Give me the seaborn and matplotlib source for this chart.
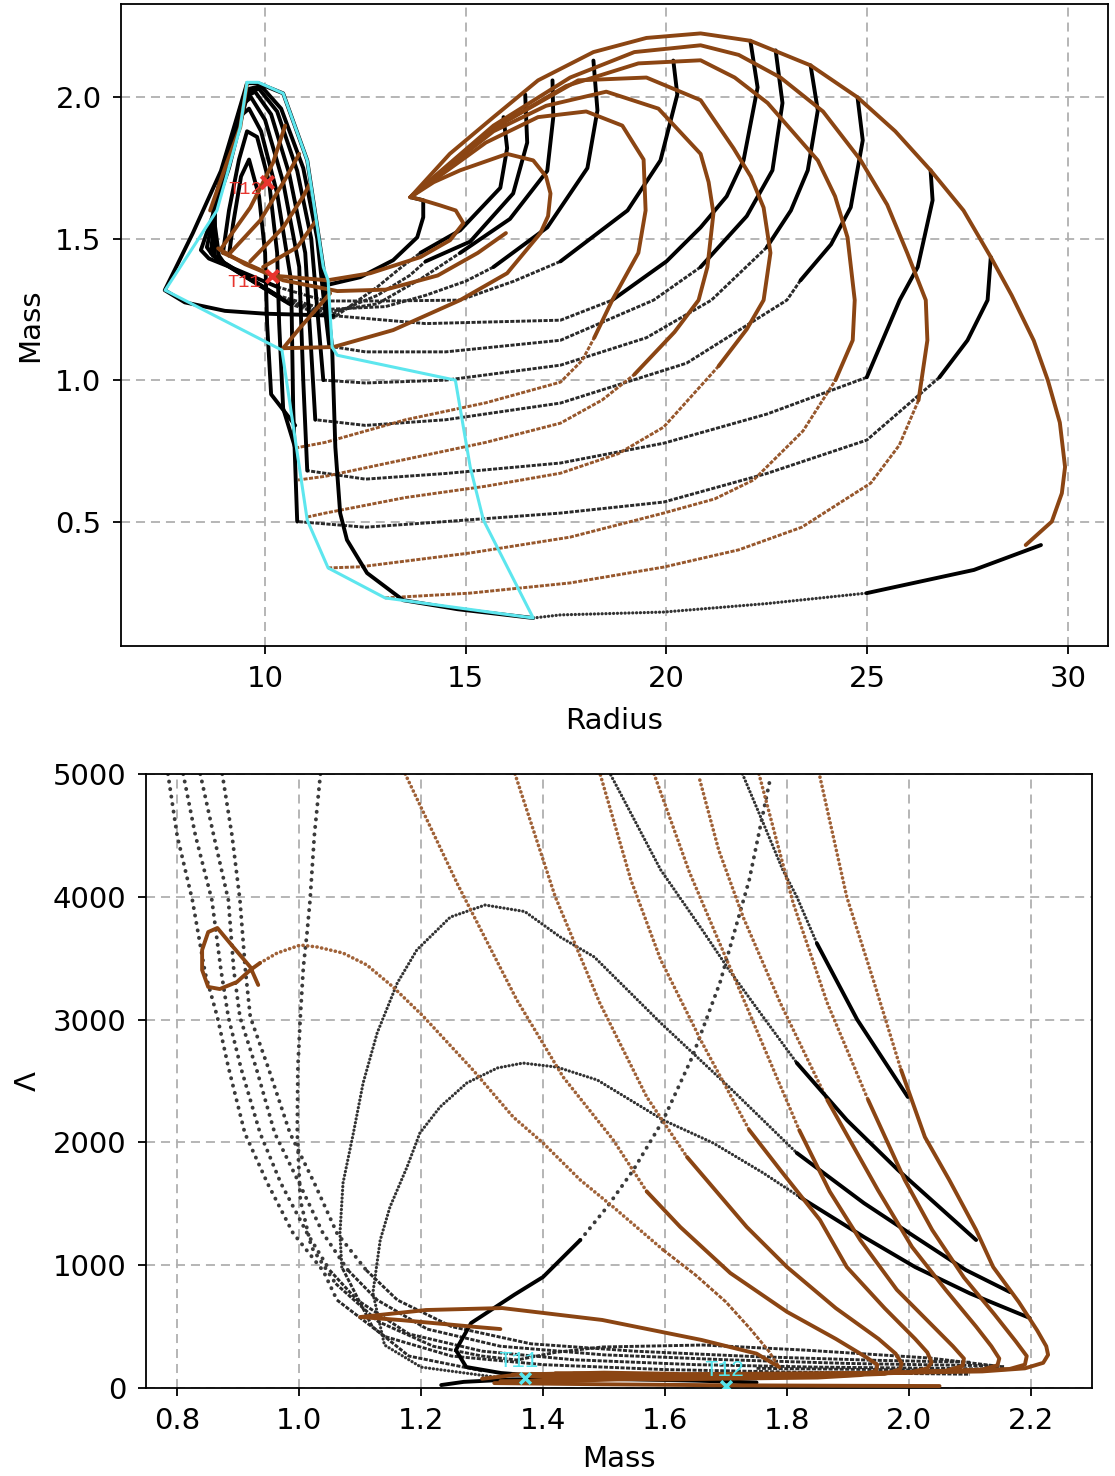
import matplotlib
matplotlib.use("Agg")
import matplotlib.pyplot as plt
import seaborn as sns

# ================= TOP PANEL: Mass vs Radius =================
TOP_X_TICKS = [10, 15, 20, 25, 30]
TOP_Y_TICKS = [0.5, 1.0, 1.5, 2.0]

T_CYAN = [(9.55, 2.053), (9.38, 1.894), (8.8, 1.60), (7.51, 1.318), (10.42, 1.106), (11.05, 0.505),
          (11.57, 0.336), (12.99, 0.23), (16.68, 0.159), (15.44, 0.505), (15.11, 0.693), (14.74, 1.0),
          (11.8, 1.088), (11.67, 1.117), (11.57, 1.353), (11.45, 1.40), (11.05, 1.777), (10.45, 2.014),
          (9.83, 2.053), (9.55, 2.053)]

# outer brown envelope
T_ENV = [(28.95, 0.417), (29.6, 0.50), (29.85, 0.60), (29.93, 0.693), (29.8, 0.85), (29.5, 1.0), (29.15, 1.14),
         (28.6, 1.30), (28.08, 1.435), (27.4, 1.60), (26.58, 1.742), (25.7, 1.88), (24.76, 2.0), (23.59, 2.113),
         (22.09, 2.20), (20.85, 2.226), (19.5, 2.21), (18.18, 2.16), (16.8, 2.06), (15.69, 1.93),
         (14.6, 1.80), (13.62, 1.647)]
# nested brown loops (lower part / upper part)
T_B1_LOW = [(12.99, 0.23), (15.11, 0.247), (17.6, 0.283), (19.93, 0.339), (21.8, 0.40), (23.37, 0.48),
            (25.09, 0.636), (25.8, 0.77), (26.28, 0.929)]
T_B1_UP = [(26.28, 0.929), (26.5, 1.141), (26.46, 1.283), (26.0, 1.449), (25.5, 1.62), (24.84, 1.777),
           (23.9, 1.95), (22.84, 2.07), (21.8, 2.15), (20.85, 2.184), (19.2, 2.16), (17.6, 2.07),
           (15.69, 1.90), (13.62, 1.647)]
T_B2_LOW = [(11.57, 0.336), (12.37, 0.34), (15.11, 0.389), (17.6, 0.445), (19.93, 0.53), (21.2, 0.58),
            (22.17, 0.647), (23.4, 0.82), (24.21, 1.0)]
T_B2_UP = [(24.21, 1.0), (24.64, 1.141), (24.69, 1.283), (24.51, 1.505), (24.2, 1.65), (23.77, 1.777),
           (22.52, 1.98), (21.7, 2.07), (20.85, 2.131), (19.3, 2.12), (17.5, 2.04), (15.69, 1.89), (13.62, 1.647)]
T_B3_LOW = [(11.05, 0.516), (11.5, 0.53), (13.5, 0.585), (15.5, 0.625), (17.36, 0.671), (18.8, 0.74),
            (19.93, 0.834), (21.3, 1.05)]
T_B3_UP = [(21.3, 1.05), (22.0, 1.18), (22.42, 1.283), (22.59, 1.45), (22.42, 1.61), (22.1, 1.72),
           (21.67, 1.82), (20.85, 1.99), (19.5, 2.07), (17.8, 2.06), (15.69, 1.89), (13.62, 1.647)]
T_B4_LOW = [(10.82, 0.647), (11.5, 0.66), (13.5, 0.72), (15.5, 0.78), (17.36, 0.848), (18.4, 0.93), (19.2, 1.02)]
T_B4_UP = [(19.2, 1.02), (20.2, 1.17), (20.8, 1.283), (21.02, 1.40), (21.17, 1.59), (21.05, 1.70),
           (20.85, 1.80), (19.8, 1.96), (18.5, 2.02), (17.0, 1.97), (15.69, 1.88), (13.62, 1.647)]
T_B5_LOW = [(10.75, 0.76), (11.5, 0.78), (13.5, 0.86), (15.5, 0.92), (17.36, 0.993), (17.9, 1.07), (18.2, 1.15)]
T_B5_UP = [(18.2, 1.15), (18.65, 1.283), (19.3, 1.45), (19.48, 1.60), (19.43, 1.78), (18.9, 1.90),
           (18.0, 1.95), (16.8, 1.93), (15.5, 1.84), (13.62, 1.647)]
T_B6 = [(13.62, 1.647), (14.2, 1.70), (14.86, 1.742), (16.03, 1.80), (16.68, 1.777), (17.0, 1.72), (17.11, 1.66),
        (17.05, 1.58), (16.86, 1.52), (16.03, 1.378), (14.86, 1.283), (13.19, 1.177), (11.7, 1.117),
        (10.45, 1.113), (10.9, 1.19), (11.62, 1.307)]
T_B7 = [(13.62, 1.647), (13.94, 1.636), (14.36, 1.618), (14.75, 1.60), (14.94, 1.555), (14.61, 1.495),
        (13.87, 1.435), (12.62, 1.378), (11.55, 1.353), (10.17, 1.37), (9.5, 1.41), (8.83, 1.466)]
T_B8 = [(8.95, 1.45), (10.45, 1.353), (11.8, 1.315), (13.0, 1.32), (14.3, 1.37), (15.3, 1.45), (16.0, 1.52)]
T_BD1 = [(8.88, 1.46), (9.63, 1.61), (10.2, 1.77), (10.5, 1.90)]
T_BD2 = [(9.13, 1.45), (9.88, 1.565), (10.5, 1.71), (10.85, 1.80)]
T_BD3 = [(9.63, 1.42), (10.45, 1.54), (10.95, 1.65), (11.1, 1.69)]
T_BD4 = [(9.95, 1.40), (10.8, 1.47), (11.25, 1.56)]
T_BEDGE = [(9.55, 2.05), (9.38, 1.894), (9.05, 1.77), (8.63, 1.60)]

# black sequences
T_C0_DOT = [(16.68, 0.159), (17.36, 0.17), (19.93, 0.18), (22.5, 0.21), (24.99, 0.247)]
T_C0_TAIL = [(24.99, 0.247), (27.66, 0.329), (29.33, 0.417)]
T_C0_CL = [(16.68, 0.159), (14.8, 0.19), (13.44, 0.222), (12.54, 0.318), (12.04, 0.435), (11.87, 0.53),
           (11.75, 0.763), (11.67, 1.116), (11.45, 1.40), (11.05, 1.777), (10.45, 2.014), (9.83, 2.05),
           (9.55, 2.05), (9.3, 1.93), (8.9, 1.74), (8.2, 1.52), (7.5, 1.318), (8.0, 1.275), (9.0, 1.245),
           (10.0, 1.235), (11.7, 1.228)]
T_C0_LOW = [(11.7, 1.228), (14.0, 1.20), (17.36, 1.212), (18.65, 1.283)]
T_C0_ARC = [(18.65, 1.283), (20.0, 1.42), (20.85, 1.54), (21.5, 1.65), (21.92, 1.777), (22.27, 2.035), (22.09, 2.20)]

T_C1_A = [(22.72, 2.166), (22.89, 1.98), (22.64, 1.742), (22.0, 1.58), (20.85, 1.40)]
T_C1_B = [(20.85, 1.40), (19.68, 1.283), (17.36, 1.141), (14.5, 1.10), (12.5, 1.10), (11.6, 1.12)]
T_C1_C = [(11.6, 1.12), (11.45, 1.30), (11.3, 1.50), (10.95, 1.75), (10.4, 1.96), (9.9, 2.04), (9.6, 2.03),
          (9.4, 1.92), (9.1, 1.75), (8.4, 1.46), (8.6, 1.43), (9.3, 1.39), (10.3, 1.33)]
T_C1_D = [(10.3, 1.33), (11.5, 1.28), (13.0, 1.28), (14.86, 1.283), (16.2, 1.35), (17.36, 1.42)]
T_C1_E = [(17.36, 1.42), (19.03, 1.60), (19.85, 1.777), (20.27, 2.01), (20.17, 2.13)]

T_C2_A = [(23.59, 2.113), (23.77, 1.954), (23.52, 1.742), (23.1, 1.60), (22.5, 1.47)]
T_C2_B = [(22.5, 1.47), (21.12, 1.283), (19.5, 1.15), (17.36, 1.053), (14.5, 1.0), (12.5, 0.99), (11.45, 1.0)]
T_C2_C = [(11.45, 1.0), (11.3, 1.25), (11.15, 1.50), (10.8, 1.74), (10.3, 1.95), (9.85, 2.03), (9.55, 2.02),
          (9.3, 1.90), (8.9, 1.70), (8.55, 1.47), (8.7, 1.44), (9.5, 1.37), (10.3, 1.30)]
T_C2_D = [(10.3, 1.30), (11.5, 1.25), (13.0, 1.26), (14.0, 1.30), (15.0, 1.35), (15.69, 1.40)]
T_C2_E = [(15.69, 1.40), (17.03, 1.54), (18.03, 1.75), (18.28, 1.954), (18.18, 2.13)]

T_C3_A = [(24.76, 2.0), (24.89, 1.848), (24.59, 1.611), (24.1, 1.48), (23.34, 1.353)]
T_C3_B = [(23.34, 1.353), (23.0, 1.283), (20.5, 1.06), (17.36, 0.919), (14.5, 0.86), (12.5, 0.84), (11.25, 0.86)]
T_C3_C = [(11.25, 0.86), (11.15, 1.1), (11.0, 1.45), (10.6, 1.73), (10.15, 1.94), (9.75, 2.02), (9.5, 2.0),
          (9.2, 1.86), (8.8, 1.66), (8.65, 1.45), (8.8, 1.43), (9.6, 1.36), (10.4, 1.29)]
T_C3_D = [(10.4, 1.29), (11.5, 1.24), (12.8, 1.27), (13.9, 1.36), (14.86, 1.45)]
T_C3_E = [(14.86, 1.45), (16.1, 1.57), (17.03, 1.74), (17.18, 1.93), (17.16, 2.06)]

T_C4_A = [(26.58, 1.742), (26.63, 1.636), (26.26, 1.40), (25.81, 1.283), (24.99, 1.01)]
T_C4_B = [(24.99, 1.01), (22.5, 0.88), (19.93, 0.777), (17.36, 0.707), (14.5, 0.67), (12.5, 0.65), (11.05, 0.68)]
T_C4_C = [(11.05, 0.68), (10.95, 1.0), (10.85, 1.40), (10.45, 1.70), (10.0, 1.92), (9.65, 2.0), (9.4, 1.97),
          (9.1, 1.82), (8.75, 1.63), (8.75, 1.44), (8.9, 1.42), (9.7, 1.35), (10.5, 1.28)]
T_C4_D = [(10.5, 1.28), (11.6, 1.23), (12.8, 1.30), (13.6, 1.37), (14.0, 1.42)]
T_C4_E = [(14.0, 1.42), (15.11, 1.49), (16.18, 1.66), (16.53, 1.84), (16.48, 2.01)]

T_C5_A = [(28.08, 1.435), (28.0, 1.283), (27.5, 1.141), (26.8, 1.01)]
T_C5_B = [(26.8, 1.01), (24.99, 0.788), (22.5, 0.67), (19.93, 0.569), (17.36, 0.53), (14.5, 0.50), (12.5, 0.48), (10.8, 0.50)]
T_C5_C = [(10.8, 0.50), (10.7, 0.9), (10.65, 1.35), (10.3, 1.66), (9.9, 1.88), (9.6, 1.96), (9.35, 1.93),
          (9.0, 1.78), (8.7, 1.60), (8.85, 1.44), (9.0, 1.41), (9.8, 1.34), (10.6, 1.27)]
T_C5_D = [(10.6, 1.27), (11.7, 1.22), (12.8, 1.33), (13.4, 1.40), (13.87, 1.45)]
T_C5_E = [(13.87, 1.45), (14.86, 1.53), (15.86, 1.68), (16.03, 1.82), (15.94, 1.93)]

T_C6 = [(10.75, 0.76), (10.45, 0.9), (10.35, 1.2), (10.3, 1.45), (10.1, 1.7), (9.8, 1.86), (9.55, 1.88),
        (9.35, 1.78), (9.1, 1.6), (8.95, 1.45)]
T_C7 = [(10.75, 0.84), (10.15, 0.95), (10.05, 1.2), (10.0, 1.45), (9.85, 1.65), (9.6, 1.78), (9.4, 1.72),
        (9.2, 1.55), (9.1, 1.44)]
T_JOIN = [(13.62, 1.647), (13.94, 1.636), (13.94, 1.576), (13.79, 1.505), (13.19, 1.424), (12.37, 1.364), (11.5, 1.335)]

TOP_MARK_NAMES = ["T11", "T12"]
TOP_MARK_R = [10.17, 10.05]
TOP_MARK_M = [1.37, 1.70]

# ================= BOTTOM PANEL: Lambda vs Mass =================
BOT_X_TICKS = [0.8, 1.0, 1.2, 1.4, 1.6, 1.8, 2.0, 2.2]
BOT_Y_TICKS = [0, 1000, 2000, 3000, 4000, 5000]

L_LOOP = [(0.933, 3282), (0.920, 3428), (0.892, 3591), (0.866, 3746), (0.851, 3713), (0.841, 3567),
          (0.841, 3404), (0.851, 3266), (0.870, 3249), (0.898, 3306), (0.920, 3404), (0.936, 3461)]
L_LOOP_TAIL = [(0.936, 3461), (0.964, 3542), (1.002, 3607), (1.030, 3591), (1.072, 3542), (1.111, 3445),
               (1.154, 3266), (1.203, 3030), (1.285, 2590), (1.351, 2207), (1.400, 1995), (1.461, 1694),
               (1.515, 1474), (1.597, 1124)]
L_LOOP_END = [(1.597, 1124), (1.65, 920), (1.70, 700), (1.74, 480), (1.77, 300), (1.787, 171)]
L_LOW_ARC = [(1.787, 171), (1.75, 280), (1.66, 391), (1.497, 554), (1.333, 651), (1.208, 635), (1.1, 578),
             (1.167, 553), (1.29, 497), (1.33, 480)]

L_F1_DOT = [(1.174, 5000), (1.26, 4100), (1.357, 3160), (1.433, 2532), (1.515, 2020), (1.57, 1600)]
L_F1 = [(1.57, 1600), (1.625, 1311), (1.707, 936), (1.80, 620), (1.88, 400), (1.93, 250), (1.948, 190),
        (1.946, 140), (1.92, 105), (1.85, 85), (1.6, 70), (1.45, 75), (1.38, 95)]
L_F2_DOT = [(1.354, 5000), (1.42, 4000), (1.493, 3135), (1.570, 2370), (1.636, 1881)]
L_F2 = [(1.636, 1881), (1.734, 1311), (1.80, 985), (1.88, 650), (1.95, 400), (1.978, 280), (1.988, 200),
        (1.985, 150), (1.96, 115), (1.85, 95), (1.65, 85), (1.5, 80), (1.4, 90)]
L_F3_DOT = [(1.494, 4992), (1.544, 4137), (1.593, 3485), (1.661, 2809), (1.738, 2101)]
L_F3 = [(1.738, 2101), (1.789, 1775), (1.854, 1368), (1.898, 985), (1.96, 650), (2.01, 400), (2.03, 290),
        (2.037, 210), (2.03, 160), (2.0, 125), (1.85, 105), (1.65, 95), (1.45, 95), (1.35, 110)]
L_F4_DOT = [(1.582, 5000), (1.64, 4200), (1.70, 3500), (1.76, 2800), (1.82, 2100)]
L_F4 = [(1.82, 2100), (1.87, 1600), (1.92, 1205), (1.98, 800), (2.04, 500), (2.072, 340), (2.09, 240),
        (2.088, 180), (2.06, 140), (1.9, 115), (1.7, 105), (1.5, 100), (1.38, 115)]
L_F5_DOT = [(1.657, 4951), (1.688, 4381), (1.728, 3835), (1.789, 3135), (1.866, 2345)]
L_F5 = [(1.866, 2345), (1.949, 1612), (2.005, 1148), (2.06, 800), (2.11, 500), (2.135, 340), (2.148, 240),
        (2.145, 185), (2.12, 150), (1.95, 120), (1.75, 110), (1.55, 105), (1.4, 110)]
L_F6_DOT = [(1.754, 5000), (1.81, 3950), (1.866, 3135), (1.933, 2345)]
L_F6 = [(1.933, 2345), (1.993, 1694), (2.038, 1287), (2.09, 900), (2.14, 600), (2.175, 380), (2.193, 260),
        (2.19, 190), (2.165, 155), (2.0, 125), (1.8, 115), (1.6, 110), (1.42, 120)]
L_F7_DOT = [(1.854, 4975), (1.898, 3998), (1.943, 3298), (1.987, 2590)]
L_F7 = [(1.987, 2590), (2.026, 2044), (2.066, 1694), (2.110, 1287), (2.138, 985), (2.18, 700), (2.21, 470),
        (2.225, 340), (2.228, 270), (2.22, 205), (2.19, 160), (2.12, 135), (2.0, 125), (1.8, 118),
        (1.6, 112), (1.45, 118)]
L_B_FLOOR = [(1.32, 40), (1.5, 30), (1.7, 22), (1.9, 18), (2.05, 16)]
L_B_SWIRL = [(1.30, 75), (1.36, 110), (1.5, 125), (1.62, 115), (1.6, 80), (1.45, 60), (1.33, 55)]

L_D1_DOT = [(0.785, 5000), (0.80, 4500), (0.825, 3974), (0.846, 3379), (0.866, 3021), (0.884, 2614),
            (0.911, 2076), (0.948, 1669), (0.99, 1262), (1.04, 950), (1.062, 717)]
L_D1 = [(1.062, 717), (1.14, 420), (1.25, 260), (1.4, 190), (1.6, 150), (1.8, 130), (2.0, 118), (2.1, 112)]
L_D2_DOT = [(0.810, 5000), (0.83, 4500), (0.857, 3974), (0.872, 3400), (0.884, 3021), (0.905, 2600),
            (0.936, 2076), (0.97, 1669), (1.013, 1262), (1.05, 960)]
L_D2 = [(1.05, 960), (1.095, 717), (1.18, 440), (1.3, 300), (1.45, 230), (1.65, 190), (1.85, 170), (2.05, 160), (2.13, 155)]
L_D3_DOT = [(0.838, 5000), (0.86, 4500), (0.884, 3974), (0.893, 3400), (0.903, 3021), (0.93, 2600),
            (0.96, 2076), (1.0, 1669), (1.039, 1262), (1.08, 960)]
L_D3 = [(1.08, 960), (1.128, 717), (1.21, 480), (1.33, 340), (1.5, 270), (1.7, 230), (1.9, 200), (2.08, 185), (2.15, 180)]
L_D4_DOT = [(0.874, 5000), (0.89, 4500), (0.903, 3974), (0.912, 3400), (0.920, 3021), (0.95, 2600),
            (0.985, 2076), (1.025, 1669), (1.062, 1262), (1.11, 960)]
L_D4 = [(1.11, 960), (1.161, 717), (1.25, 500), (1.38, 360), (1.55, 300), (1.75, 255), (1.95, 225), (2.1, 210)]
L_D5_DOT = [(1.035, 5000), (1.025, 4500), (1.018, 3974), (1.013, 3705), (1.007, 3428), (1.002, 3021),
            (0.998, 2614), (0.997, 2076), (1.002, 1531), (1.02, 1150), (1.06, 850)]
L_D5 = [(1.06, 850), (1.13, 540), (1.22, 340), (1.30, 260), (1.357, 228), (1.42, 290), (1.497, 334),
        (1.662, 350), (1.828, 309), (2.034, 244), (2.157, 171), (2.12, 140), (1.95, 150), (1.75, 160)]

L_K1_DOT = [(1.727, 5000), (1.761, 4600), (1.793, 4220), (1.816, 4000), (1.849, 3620)]
L_K1 = [(1.849, 3620), (1.915, 3000), (1.998, 2370)]
L_K2_DOT = [(1.511, 4992), (1.593, 4218), (1.661, 3730), (1.705, 3404), (1.761, 3021), (1.816, 2647)]
L_K2 = [(1.816, 2647), (1.898, 2182), (1.982, 1775), (2.110, 1205)]
L_K3_LOW = [(1.30, 140), (1.18, 260), (1.12, 500), (1.07, 985)]
L_K3_DOT = [(1.07, 985), (1.067, 1262), (1.072, 1669), (1.089, 2076), (1.105, 2484), (1.128, 2891),
            (1.161, 3298), (1.193, 3567), (1.248, 3835), (1.305, 3933), (1.37, 3880), (1.428, 3673),
            (1.484, 3510), (1.593, 2972), (1.705, 2451), (1.816, 1914)]
L_K3 = [(1.816, 1914), (1.926, 1506), (2.010, 1230), (2.093, 961), (2.166, 780)]
L_K4_THIN = [(1.32, 90), (1.2, 170), (1.14, 350), (1.121, 774), (1.133, 1205), (1.149, 1474), (1.177, 1800),
             (1.198, 2076), (1.231, 2288), (1.275, 2484), (1.325, 2606), (1.367, 2646), (1.423, 2613),
             (1.489, 2508), (1.543, 2345), (1.597, 2182), (1.679, 1995), (1.761, 1751), (1.821, 1555)]
L_K4 = [(1.821, 1555), (1.926, 1230), (2.010, 985), (2.1, 770), (2.198, 570)]
L_K5 = [(1.40, 95), (1.331, 122), (1.274, 171), (1.257, 309), (1.282, 529), (1.353, 760), (1.4, 904), (1.461, 1205)]
L_K5_DOT = [(1.461, 1205), (1.505, 1474), (1.548, 1775), (1.597, 2182), (1.645, 2700),
            (1.69, 3300), (1.738, 4137), (1.772, 4951)]
L_K_FLOOR = [(1.233, 24), (1.27, 50), (1.35, 70), (1.5, 75), (1.65, 60), (1.75, 45)]

BOT_MARK_NAMES = ["T11", "T12"]
BOT_MARK_M = [1.37, 1.70]
BOT_MARK_L = [81, 16]

# ================= styles =================
STYLES = {
    "kd": dict(color="#3a3a3a", lw=2.8, ls=(0, (0.05, 1.9)), cap="round", z=2),
    "kc": dict(color="#333333", lw=2.3, ls=(0, (0.05, 1.15)), cap="round", z=2),
    "bd": dict(color="#a06238", lw=2.6, ls=(0, (0.05, 1.25)), cap="round", z=2),
    "kt": dict(color="#2a2a2a", lw=2.1, ls=(0, (1.4, 0.5)), cap="butt", z=3),
    "bt": dict(color="#97572c", lw=2.1, ls=(0, (1.4, 0.5)), cap="butt", z=3),
    "k": dict(color="black", lw=2.8, ls="-", cap="round", z=4),
    "b": dict(color="#8b4513", lw=2.8, ls="-", cap="round", z=5),
    "c": dict(color="#5de6ee", lw=2.2, ls="-", cap="round", z=6),
}

TOP_SEGMENTS = [
    ("kc", T_C0_DOT), ("k", T_C0_TAIL), ("k", T_C0_CL), ("kt", T_C0_LOW), ("k", T_C0_ARC),
    ("k", T_C1_A), ("kt", T_C1_B), ("k", T_C1_C), ("kt", T_C1_D), ("k", T_C1_E),
    ("k", T_C2_A), ("kt", T_C2_B), ("k", T_C2_C), ("kt", T_C2_D), ("k", T_C2_E),
    ("k", T_C3_A), ("kt", T_C3_B), ("k", T_C3_C), ("kt", T_C3_D), ("k", T_C3_E),
    ("k", T_C4_A), ("kt", T_C4_B), ("k", T_C4_C), ("kt", T_C4_D), ("k", T_C4_E),
    ("k", T_C5_A), ("kt", T_C5_B), ("k", T_C5_C), ("kt", T_C5_D), ("k", T_C5_E),
    ("k", T_C6), ("k", T_C7), ("k", T_JOIN),
    ("b", T_ENV), ("bt", T_B1_LOW), ("b", T_B1_UP), ("bt", T_B2_LOW), ("b", T_B2_UP),
    ("bt", T_B3_LOW), ("b", T_B3_UP), ("bt", T_B4_LOW), ("b", T_B4_UP), ("bt", T_B5_LOW), ("b", T_B5_UP),
    ("b", T_B6), ("b", T_B7), ("b", T_B8), ("b", T_BD1), ("b", T_BD2), ("b", T_BD3), ("b", T_BD4),
    ("b", T_BEDGE), ("c", T_CYAN),
]

BOT_SEGMENTS = [
    ("kd", L_D1_DOT), ("kt", L_D1), ("kd", L_D2_DOT), ("kt", L_D2), ("kd", L_D3_DOT), ("kt", L_D3),
    ("kd", L_D4_DOT), ("kt", L_D4), ("kd", L_D5_DOT), ("kt", L_D5),
    ("kc", L_K1_DOT), ("k", L_K1), ("kc", L_K2_DOT), ("k", L_K2), ("kt", L_K3_LOW), ("kc", L_K3_DOT),
    ("k", L_K3), ("kc", L_K4_THIN), ("k", L_K4), ("k", L_K5), ("kd", L_K5_DOT), ("k", L_K_FLOOR),
    ("b", L_LOOP), ("bd", L_LOOP_TAIL), ("bt", L_LOOP_END), ("b", L_LOW_ARC),
    ("bd", L_F1_DOT), ("b", L_F1), ("bd", L_F2_DOT), ("b", L_F2), ("bd", L_F3_DOT), ("b", L_F3),
    ("bd", L_F4_DOT), ("b", L_F4), ("bd", L_F5_DOT), ("b", L_F5), ("bd", L_F6_DOT), ("b", L_F6),
    ("bd", L_F7_DOT), ("b", L_F7), ("b", L_B_FLOOR), ("b", L_B_SWIRL),
]

# ================= drawing =================
sns.set_style("ticks")
plt.rcParams["font.family"] = ["DejaVu Sans"]
plt.rcParams["font.size"] = 21
for key in ("text.color", "axes.labelcolor", "xtick.color", "ytick.color", "xtick.labelcolor", "ytick.labelcolor"):
    plt.rcParams[key] = "black"

fig = plt.figure(figsize=(11.15, 14.76), dpi=100)
ax1 = fig.add_axes([121 / 1115, 1 - 646 / 1476, 987 / 1115, 642 / 1476])
ax2 = fig.add_axes([146 / 1115, 1 - 1388 / 1476, 946 / 1115, 614 / 1476])


def draw(ax, kind, pts):
    st = STYLES[kind]
    xs = [p[0] for p in pts]
    ys = [p[1] for p in pts]
    sns.lineplot(x=xs, y=ys, ax=ax, sort=False, estimator=None, color=st["color"],
                 linewidth=st["lw"], linestyle=st["ls"], dash_capstyle=st["cap"],
                 solid_capstyle=st["cap"], solid_joinstyle="round", zorder=st["z"], legend=False)


for kind, pts in TOP_SEGMENTS:
    draw(ax1, kind, pts)
for kind, pts in BOT_SEGMENTS:
    draw(ax2, kind, pts)

# markers
sns.scatterplot(x=TOP_MARK_R, y=TOP_MARK_M, ax=ax1, marker="x", color="#e8352e", s=80,
                linewidth=3, zorder=8, legend=False)
for name, r, m, off in zip(TOP_MARK_NAMES, TOP_MARK_R, TOP_MARK_M, [(-8, -5), (-4, -5)]):
    ax1.annotate(name, (r, m), xytext=off, textcoords="offset points", ha="right", va="center",
                 color="#e8352e", fontsize=13.5, family="Liberation Mono", zorder=9)
sns.scatterplot(x=BOT_MARK_M, y=BOT_MARK_L, ax=ax2, marker="x", color="#55e6ee", s=60,
                linewidth=2.5, zorder=8, legend=False)
for name, mm, ll, off in zip(BOT_MARK_NAMES, BOT_MARK_M, BOT_MARK_L, [(-5, 12), (-1, 11)]):
    ax2.annotate(name, (mm, ll), xytext=off, textcoords="offset points", ha="center", va="center",
                 color="#55e6ee", fontsize=16, family="Liberation Mono", zorder=9)

grid_kw = dict(color="#b0b0b0", linestyle=(0, (5, 3.3)), linewidth=1.3)
for ax in (ax1, ax2):
    ax.grid(True, **grid_kw)
    ax.set_axisbelow(True)
    for sp in ax.spines.values():
        sp.set_linewidth(1.3)
        sp.set_color("black")
    ax.tick_params(axis="both", labelsize=21, length=6, width=1.3, pad=8, direction="out",
                   color="black", labelcolor="black")

ax1.set_xlim(6.41, 31.0)
ax1.set_ylim(0.06, 2.33)
ax1.set_xticks(TOP_X_TICKS)
ax1.set_yticks(TOP_Y_TICKS)
ax1.set_xlabel("Radius", fontsize=21, labelpad=10)
ax1.set_ylabel("Mass", fontsize=21, labelpad=8)

ax2.set_xlim(0.749, 2.30)
ax2.set_ylim(0, 5000)
ax2.set_xticks(BOT_X_TICKS)
ax2.set_yticks(BOT_Y_TICKS)
ax2.set_xticklabels([f"{v:.1f}" for v in BOT_X_TICKS])
ax2.set_xlabel("Mass", fontsize=21, labelpad=7)
ax2.set_ylabel("Λ", fontsize=21, labelpad=8)

fig.savefig("out.png", dpi=100)
